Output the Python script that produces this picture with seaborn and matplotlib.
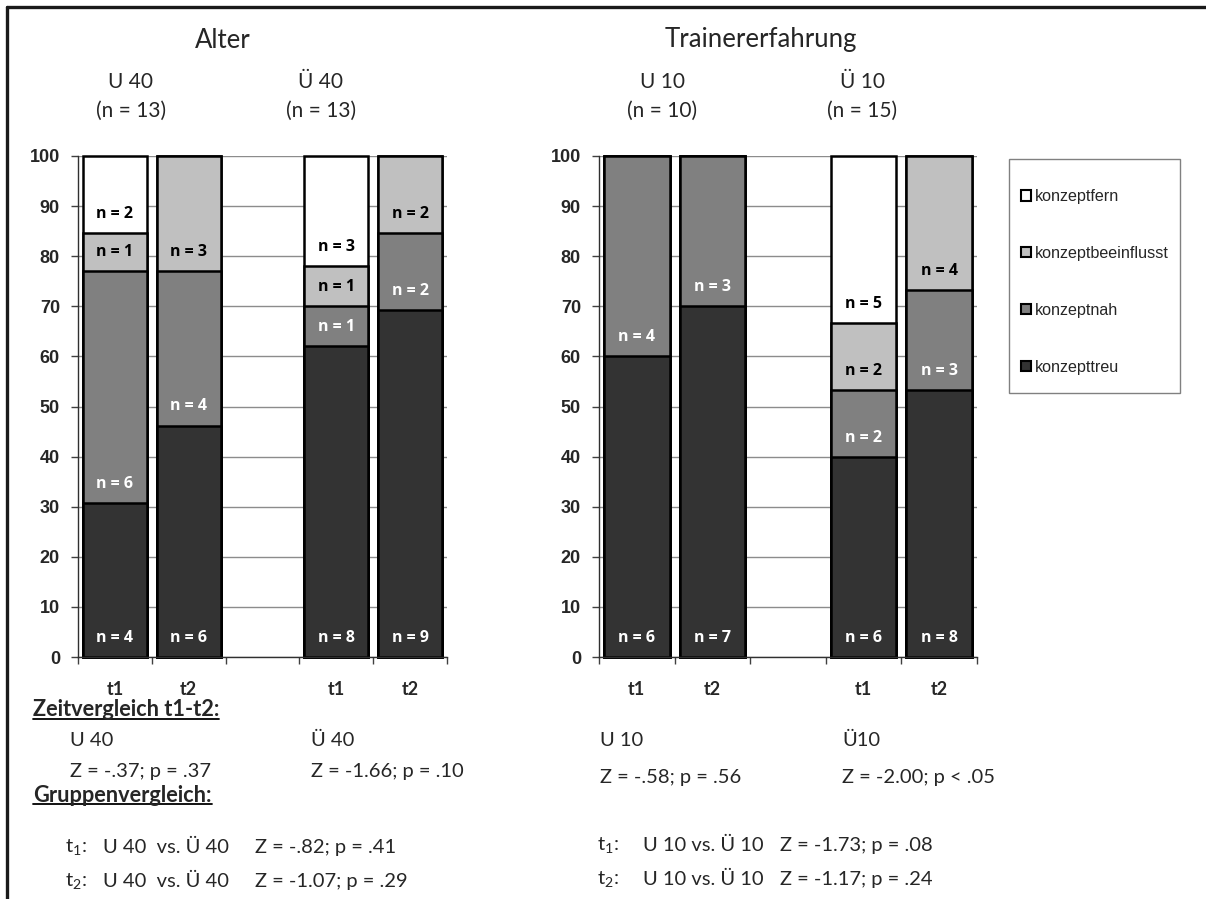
import numpy as np
import pandas as pd
import matplotlib
matplotlib.use("Agg")
import matplotlib.pyplot as plt
import seaborn as sns
from matplotlib.patches import Patch, Rectangle
from matplotlib.lines import Line2D

sns.set_style("white")
plt.rcParams["font.family"] = ["Lato", "DejaVu Sans"]
plt.rcParams["mathtext.fontset"] = "custom"
plt.rcParams["mathtext.rm"] = "Lato"
plt.rcParams["mathtext.it"] = "Lato:italic"
plt.rcParams["mathtext.bf"] = "Lato:bold"

W, H = 1206, 899

# ---- data -------------------------------------------------------------
categories = ["konzepttreu", "konzeptnah", "konzeptbeeinflusst", "konzeptfern"]
colors = ["#333333", "#808080", "#c0c0c0", "#ffffff"]
label_colors = ["white", "white", "black", "black"]

slot_pos = [0, 1, 3, 4]          # middle slot (2) stays empty
time_labels = ["t1", "t2", "t1", "t2"]

# Alter: U 40 t1, U 40 t2, Ü 40 t1, Ü 40 t2 (percent)
alter_treu = [30.8, 46.2, 62.0, 69.2]
alter_nah = [46.2, 30.8, 8.0, 15.4]
alter_beein = [7.7, 23.1, 8.0, 15.4]
alter_fern = [15.3, 0.0, 22.0, 0.0]
alter_n_treu = [4, 6, 8, 9]
alter_n_nah = [6, 4, 1, 2]
alter_n_beein = [1, 3, 1, 2]
alter_n_fern = [2, None, 3, None]

# Trainererfahrung: U 10 t1, U 10 t2, Ü 10 t1, Ü 10 t2 (percent)
train_treu = [60.0, 70.0, 40.0, 53.3]
train_nah = [40.0, 30.0, 13.3, 20.0]
train_beein = [0.0, 0.0, 13.3, 26.7]
train_fern = [0.0, 0.0, 33.4, 0.0]
train_n_treu = [6, 7, 6, 8]
train_n_nah = [4, 3, 2, 3]
train_n_beein = [None, None, 2, 4]
train_n_fern = [None, None, 5, None]


def fx(px):
    return px / W


def fy(py):
    return 1 - py / H


fig = plt.figure(figsize=(W / 100, H / 100), dpi=100)
fig.patch.set_facecolor("white")

ax_alter = fig.add_axes([fx(78), fy(657), fx(447) - fx(78), fy(156) - fy(657)])
ax_train = fig.add_axes([fx(599), fy(657), fx(977) - fx(599), fy(156) - fy(657)])


def draw_panel(ax, shares, counts):
    df = pd.DataFrame({"pos": slot_pos})
    for cat, vals in zip(categories, shares):
        df[cat] = vals
    cum = df[categories].cumsum(axis=1).clip(upper=100)
    # stacked bars: draw cumulative totals from the top layer down
    for i in range(len(categories) - 1, -1, -1):
        sns.barplot(x=df["pos"], y=cum[categories[i]], native_scale=True,
                    color=colors[i], saturation=1, width=0.87,
                    edgecolor="black", linewidth=1.8, errorbar=None, ax=ax)
    for p in ax.patches:
        p.set_clip_on(False)

    for i, cat in enumerate(categories):
        base = cum[categories[i - 1]] if i > 0 else pd.Series([0.0] * len(df))
        for j, pos in enumerate(slot_pos):
            n = counts[i][j]
            if n is None:
                continue
            ax.text(pos, base.iloc[j] + 3.8, f"n = {n}", ha="center", va="center",
                    fontsize=11.5, fontweight="bold", color=label_colors[i],
                    family=["Open Sans", "DejaVu Sans"], zorder=5)

    ax.set_xlim(-0.5, 4.5)
    ax.set_ylim(0, 100)
    ax.set_xlabel("")
    ax.set_ylabel("")
    ax.set_axisbelow(True)
    ax.yaxis.grid(True, color="#8c8c8c", linewidth=1.0)
    ax.xaxis.grid(False)

    ax.set_yticks(np.arange(0, 101, 10))
    ax.set_yticklabels([str(v) for v in range(0, 101, 10)],
                       family=["Liberation Sans"], fontweight="bold", fontsize=13)
    ax.tick_params(axis="y", direction="out", length=5, width=1, color="#404040",
                   pad=8, left=True)

    ax.set_xticks(np.arange(-0.5, 4.6, 1.0))
    ax.set_xticklabels([])
    ax.set_xticks(slot_pos, minor=True)
    ax.set_xticklabels(time_labels, minor=True, fontweight="bold", fontsize=13)
    ax.tick_params(axis="x", which="major", direction="out", length=5, width=1,
                   color="#404040", bottom=True)
    ax.tick_params(axis="x", which="minor", length=0, pad=17)

    for side in ["top", "right"]:
        ax.spines[side].set_visible(False)
    for side in ["left", "bottom"]:
        ax.spines[side].set_color("#303030")
        ax.spines[side].set_linewidth(1.0)


draw_panel(ax_alter,
           [alter_treu, alter_nah, alter_beein, alter_fern],
           [alter_n_treu, alter_n_nah, alter_n_beein, alter_n_fern])
draw_panel(ax_train,
           [train_treu, train_nah, train_beein, train_fern],
           [train_n_treu, train_n_nah, train_n_beein, train_n_fern])

# ---- headings -----------------------------------------------------------
fig.text(fx(223), fy(40), "Alter", ha="center", va="center", fontsize=18.5)
fig.text(fx(761), fy(40), "Trainererfahrung", ha="center", va="center", fontsize=18.5)
for x, g, n in [(131, "U 40", 13), (321, "Ü 40", 13), (662, "U 10", 10), (862, "Ü 10", 15)]:
    fig.text(fx(x), fy(82), g, ha="center", va="center", fontsize=15)
    fig.text(fx(x), fy(111), f"(n = {n})", ha="center", va="center", fontsize=15)

# ---- legend ------------------------------------------------------------------
fig.patches.append(Rectangle((fx(1009), fy(393)), fx(1180) - fx(1009), fy(159) - fy(393),
                             transform=fig.transFigure, facecolor="white",
                             edgecolor="#808080", linewidth=1.0, zorder=1))
handles = [Patch(facecolor=c, edgecolor="black", linewidth=1.5, label=l)
           for c, l in zip(colors, categories)][::-1]
fig.legend(handles=handles, loc="center left",
           bbox_to_anchor=(fx(1013), fy(282)), frameon=False,
           labelspacing=2.6, handlelength=0.6, handleheight=0.6,
           handletextpad=0.25, borderpad=0.0,
           prop={"family": "Liberation Sans", "size": 11.6})

# ---- statistics below the chart -------------------------------------------
txt = dict(fontsize=14.5, va="center", ha="left")
heading1 = fig.text(fx(33), fy(710), "Zeitvergleich t1-t2:", fontweight="bold",
                    fontsize=15.7, va="center", ha="left")
heading2 = fig.text(fx(33), fy(795), "Gruppenvergleich:", fontweight="bold",
                    fontsize=15.7, va="center", ha="left")

zeit = [(70, 740, 772, "U 40", "Z = -.37; p = .37"),
        (311, 740, 772, "Ü 40", "Z = -1.66; p = .10"),
        (600, 740, 777, "U 10", "Z = -.58; p = .56"),
        (842, 740, 777, "Ü10", "Z = -2.00; p < .05")]
for x, y1, y2, g, s in zeit:
    fig.text(fx(x), fy(y1), g, **txt)
    fig.text(fx(x), fy(y2), s, **txt)

gruppe = [(65, 103, 255, 847, "t$_{1}$:", "U 40  vs. Ü 40", "Z = -.82; p = .41"),
          (65, 103, 255, 881, "t$_{2}$:", "U 40  vs. Ü 40", "Z = -1.07; p = .29"),
          (597, 643, 780, 845, "t$_{1}$:", "U 10 vs. Ü 10", "Z = -1.73; p = .08"),
          (597, 643, 780, 879, "t$_{2}$:", "U 10 vs. Ü 10", "Z = -1.17; p = .24")]
for xa, xb, xc, y, t, g, s in gruppe:
    fig.text(fx(xa), fy(y), t, **txt)
    fig.text(fx(xb), fy(y), g, **txt)
    fig.text(fx(xc), fy(y), s, **txt)

# underline the two bold headings
fig.canvas.draw()
renderer = fig.canvas.get_renderer()
for t in (heading1, heading2):
    bb = t.get_window_extent(renderer)
    yline = bb.y0 + 2
    fig.add_artist(Line2D([bb.x0 / W, bb.x1 / W], [yline / H, yline / H],
                          transform=fig.transFigure, color="black", linewidth=1.3))

# slide frame (top and left edges)
fig.add_artist(Line2D([fx(7), fx(1206)], [fy(7), fy(7)], transform=fig.transFigure,
                      color="#1a1a1a", linewidth=2.4))
fig.add_artist(Line2D([fx(7), fx(7)], [fy(7), fy(899)], transform=fig.transFigure,
                      color="#1a1a1a", linewidth=2.4))

fig.savefig("out.png", dpi=100)
